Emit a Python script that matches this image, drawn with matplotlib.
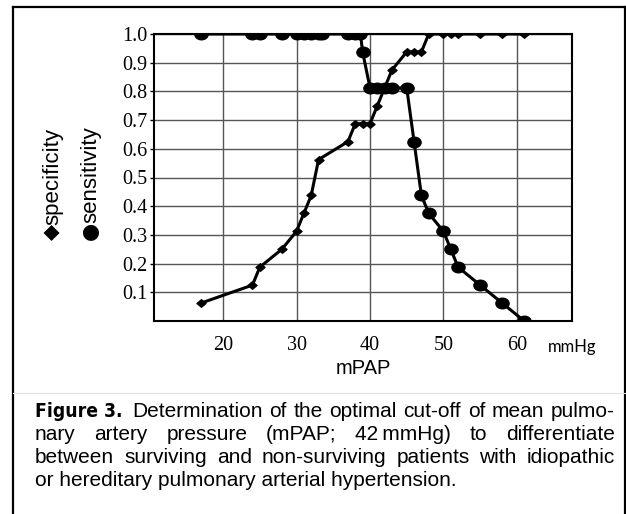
import matplotlib
matplotlib.use('Agg')
import matplotlib.pyplot as plt
from matplotlib.path import Path
from matplotlib.markers import MarkerStyle
from matplotlib.transforms import Affine2D
from matplotlib.lines import Line2D
from matplotlib import font_manager

W, H = 626, 514

# sensitivity (dots) and specificity (diamonds) vs mPAP
sens_x = [17, 24, 25, 28, 30, 31, 32, 33, 33.5, 37, 38, 38.7, 39, 40, 41, 42, 43, 45,
          46, 47, 48, 50, 51, 52, 55, 58, 61]
sens_y = [1, 1, 1, 1, 1, 1, 1, 1, 1, 1, 1, 1, 0.9375, 0.8125, 0.8125, 0.8125, 0.8125, 0.8125,
          0.625, 0.4375, 0.375, 0.3125, 0.25, 0.1875, 0.125, 0.0625, 0.0]
spec_x = [17, 24, 25, 28, 30, 31, 32, 33, 37, 38, 39, 40, 41, 42, 43, 45, 46, 47,
          48, 50, 51, 52, 55, 58, 61]
spec_y = [0.0625, 0.125, 0.1875, 0.25, 0.3125, 0.375, 0.4375, 0.5625, 0.625, 0.6875, 0.6875,
          0.6875, 0.75, 0.8125, 0.875, 0.9375, 0.9375, 0.9375, 1, 1, 1, 1, 1, 1, 1]

x_ticks = [20, 30, 40, 50, 60]
y_ticks = [0.1, 0.2, 0.3, 0.4, 0.5, 0.6, 0.7, 0.8, 0.9, 1.0]
y_labels = ['0.1', '0.2', '0.3', '0.4', '0.5', '0.6', '0.7', '0.8', '0.9', '1.0']

caption = [
    'Determination of the optimal cut-off of mean pulmo-',
    'nary artery pressure (mPAP; 42\u2009mmHg) to differentiate',
    'between surviving and non-surviving patients with idiopathic',
    'or hereditary pulmonary arterial hypertension.',
]


def px(x, y):
    return x / W, 1 - y / H


fig = plt.figure(figsize=(W / 100, H / 100), dpi=100)
renderer = fig.canvas.get_renderer()
ax = fig.add_axes([154 / W, 1 - 321 / H, (572 - 154) / W, (321 - 34) / H])

ell = Path.unit_circle().transformed(Affine2D().scale(1.25, 1.0))
dia = Path([(0, 1), (1, 0), (0, -1), (-1, 0), (0, 1)],
           [Path.MOVETO, Path.LINETO, Path.LINETO, Path.LINETO, Path.CLOSEPOLY])
dia = dia.transformed(Affine2D().scale(1.2, 1.0))

ax.plot(sens_x, sens_y, color='black', lw=2.2, marker=MarkerStyle(ell), ms=9.5,
        zorder=4, solid_joinstyle='round')
ax.plot(spec_x, spec_y, color='black', lw=2.2, marker=MarkerStyle(dia), ms=6.5,
        zorder=4, solid_joinstyle='round')

ax.set_xlim(10.6, 67.5)
ax.set_ylim(0, 1.0)
ax.set_xticks(x_ticks)
ax.set_xticklabels([str(v) for v in x_ticks])
ax.set_yticks(y_ticks)
ax.set_yticklabels(y_labels)
ax.grid(True, color='#555555', lw=1.0)
for s in ax.spines.values():
    s.set_linewidth(1.5)
    s.set_color('black')
ax.tick_params(axis='x', length=0, pad=11)
ax.tick_params(axis='y', length=3, width=1, pad=2, direction='out')
for lab in ax.get_xticklabels() + ax.get_yticklabels():
    lab.set_family('Liberation Serif')
    lab.set_fontsize(14.5)

fig.text(*px(363, 369), 'mPAP', ha='center', va='center', fontsize=14.5,
         family='Liberation Sans')
fig.text(*px(572, 347), 'mmHg', ha='center', va='center', fontsize=12, family='Lato')

# rotated legend: glyph at the bottom, word above it
for xc, glyph, word in [(52, '\u25c6', 'specificity'), (90, '\u25cf', 'sensitivity')]:
    g = fig.text(*px(xc, 240), glyph, rotation=90, ha='center', va='bottom',
                 fontsize=15, family='DejaVu Sans')
    gh = g.get_window_extent(renderer).height
    fig.text(*px(xc + 1, 240 - gh + 1), word, rotation=90, ha='center', va='bottom',
             fontsize=16, family='Liberation Sans')

# outer frame and separator
fig.add_artist(Line2D([13 / W, 13 / W], [0, 1 - 7 / H], color='black', lw=1.6))
fig.add_artist(Line2D([13 / W, 624.5 / W], [1 - 7 / H, 1 - 7 / H], color='black', lw=1.6))
fig.add_artist(Line2D([624.5 / W, 624.5 / W], [0, 1 - 7 / H], color='black', lw=1.6))
fig.add_artist(Line2D([13 / W, 624.5 / W], [1 - 393 / H, 1 - 393 / H], color='#e2e2e2', lw=0.8))

# caption heading in a narrow bold face if one is installed
def wnum(f):
    return f.weight if isinstance(f.weight, int) else font_manager.weight_dict.get(f.weight, 400)


head_file = None
for pref in ['Liberation Sans Narrow', 'DejaVu Sans', None]:
    for f in font_manager.fontManager.ttflist:
        narrow = ('Narrow' in f.name or 'Condensed' in f.name or f.stretch == 'condensed'
                  or 'Condensed' in f.fname or 'Narrow' in f.fname)
        if wnum(f) >= 600 and narrow and (pref is None or f.name == pref):
            head_file = f.fname
            break
    if head_file:
        break

baselines = [417, 440, 463, 486]
if head_file:
    head = fig.text(*px(35, baselines[0]), 'Figure 3.', va='baseline',
                    fontproperties=font_manager.FontProperties(fname=head_file, size=15))
else:
    head = fig.text(*px(35, baselines[0]), 'Figure 3.', fontsize=15, va='baseline',
                    family='DejaVu Sans', weight='bold')
hw = head.get_window_extent(renderer).width
if hw > 88:
    head.set_fontsize(max(13.5, 15 * 88 / hw))

cap_kw = dict(fontsize=15, family=['Liberation Sans', 'DejaVu Sans'], va='baseline')


def put_line(text, x0, x1, y):
    words = text.split(' ')
    ts = [fig.text(*px(x0, y), w, **cap_kw) for w in words]
    ws = [t.get_window_extent(renderer).width for t in ts]
    gap = (x1 - x0 - sum(ws)) / (len(words) - 1)
    x = x0
    for t, w in zip(ts, ws):
        t.set_x(x / W)
        x += w + gap


put_line(caption[0], 132, 615, baselines[0])
put_line(caption[1], 35, 615, baselines[1])
put_line(caption[2], 35, 615, baselines[2])
fig.text(*px(35, baselines[3]), caption[3], **cap_kw)

fig.savefig('out.png', dpi=100)
